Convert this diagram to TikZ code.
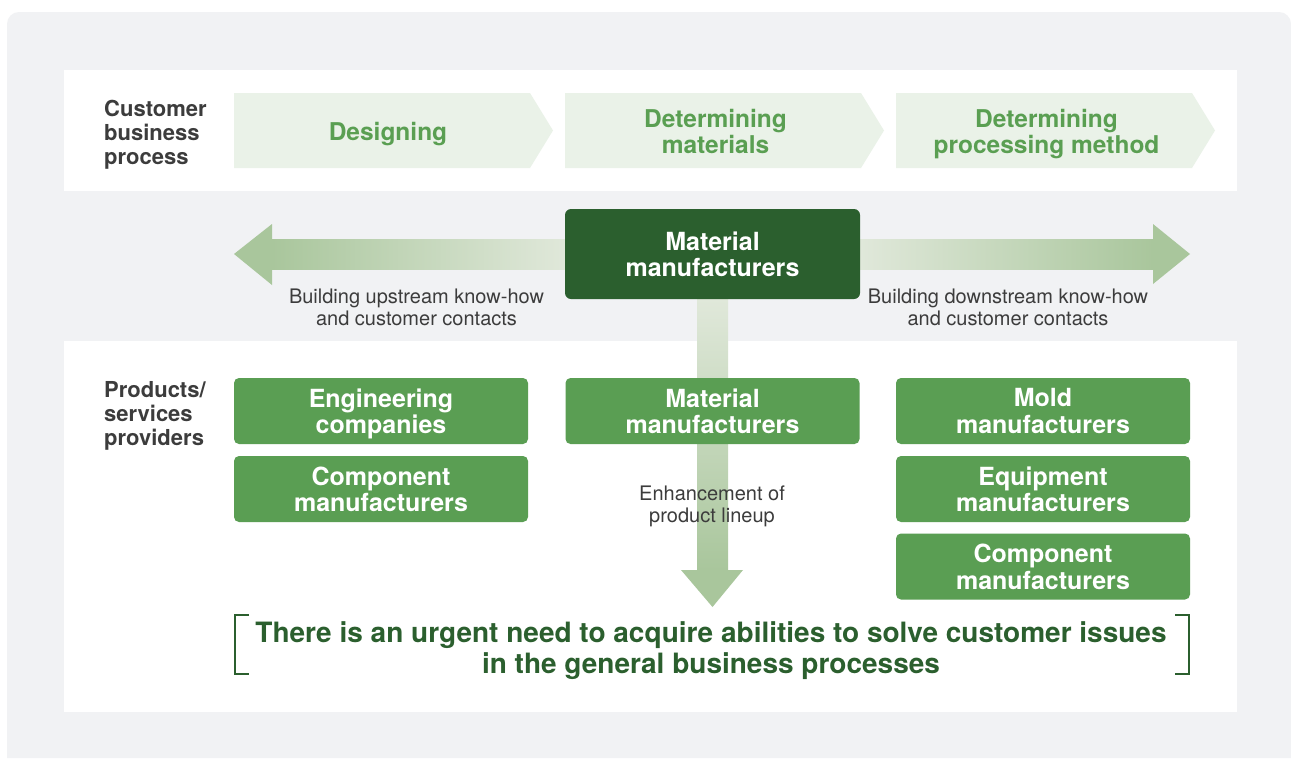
\documentclass[tikz,border=0pt]{standalone}
\usepackage{fontspec}
\setmainfont{TeX Gyre Heros}
\usepackage{xcolor}
\usepackage{tikz}
\definecolor{bggray}{HTML}{F1F2F4}
\definecolor{chevfill}{HTML}{EAF2E8}
\definecolor{chevtext}{HTML}{5A9F52}
\definecolor{darkgreen}{HTML}{2B5F2E}
\definecolor{midgreen}{HTML}{5A9E53}
\definecolor{arrowdark}{HTML}{A9C69C}
\definecolor{arrowlight}{HTML}{E0E8DA}
\definecolor{textgray}{HTML}{3C3C3C}
\tikzset{
	steptext/.style  = {text=chevtext, align=center, inner sep=0pt, text depth=0pt,
		font=\fontsize{24.5}{26}\selectfont\bfseries},
	makerbox/.style  = {shape=rectangle, rounded corners=5pt, fill=midgreen, text=white,
		align=center, minimum width=294pt, minimum height=66pt, inner sep=0pt,
		text depth=0pt, font=\fontsize{25}{26.5}\selectfont\bfseries},
	mainbox/.style   = {makerbox, fill=darkgreen, minimum width=295pt, minimum height=90pt,
		rounded corners=6pt},
	rowlabel/.style  = {text=textgray, align=left, anchor=west, inner sep=0pt,
		text depth=0pt, font=\fontsize{22}{24}\selectfont\bfseries},
	remark/.style    = {text=textgray, align=center, inner sep=0pt, text depth=0pt,
		font=\fontsize{20}{22}\selectfont},
	brackline/.style = {draw=darkgreen, line width=2pt}
}

\begin{document}
\begin{tikzpicture}
[
x = 1pt,
y = -1pt
]
\useasboundingbox (0,0) rectangle (1291,758);
\fill[white] (0,0) rectangle (1291,758);
\fill[bggray] (7,758) [rounded corners=12pt] -- (7,12) -- (1291,12) [sharp corners] -- (1291,758) -- cycle;
\fill[white] (64,70) rectangle (1237,191);
\fill[white] (64,341) rectangle (1237,712);

\foreach \x in {234,565,896}
	\fill[chevfill] (\x,93) -- (\x+296,93) -- (\x+319,130.5) -- (\x+296,168) -- (\x,168) -- cycle;
\node[rowlabel] (cbp) at (104,132) {Customer\\business\\process};
\node[steptext] (design)  at (388,131)    {Designing};
\node[steptext] (matsel)  at (715.5,131)  {Determining\\materials};
\node[steptext] (procsel) at (1046.5,131) {Determining\\processing method};

\coordinate (uptip)   at (234,254);
\coordinate (downtip) at (1190,254);
\coordinate (linetip) at (712.5,607);
\shade[left color=arrowdark, right color=arrowlight] (272,239) rectangle (566,269);
\fill[arrowdark] (uptip) -- ++(38,-30) -- ++(0,61) -- cycle;
\shade[left color=arrowlight, right color=arrowdark] (860,239) rectangle (1153,269);
\fill[arrowdark] (downtip) -- ++(-37,-30) -- ++(0,60) -- cycle;
\shade[top color=arrowlight, bottom color=arrowdark] (697,299) rectangle (728,570);
\fill[arrowdark] (linetip) -- ++(-31.5,-37) -- ++(62,0) -- cycle;

\node[mainbox] (mfr) at (712.5,254) {Material\\manufacturers};
\node[remark] (upnote)   at (416.5,307) {Building upstream know-how\\and customer contacts};
\node[remark] (downnote) at (1008,307)  {Building downstream know-how\\and customer contacts};

\node[rowlabel] (psp) at (104,413) {Products/\\services\\providers};
\node[makerbox] (eng)   at (381,411)    {Engineering\\companies};
\node[makerbox] (compA) at (381,489)    {Component\\manufacturers};
\node[makerbox] (mat)   at (712.5,411)  {Material\\manufacturers};
\node[makerbox] (mold)  at (1043,411)   {Mold\\manufacturers};
\node[makerbox] (equip) at (1043,489)   {Equipment\\manufacturers};
\node[makerbox] (compB) at (1043,566.5) {Component\\manufacturers};
\node[remark] (lineup) at (712,504) {Enhancement of\\product lineup};

\node[text=darkgreen, align=center, text depth=0pt, font=\fontsize{28}{31}\selectfont\bfseries]
	(need) at (711,647.5) {There is an urgent need to acquire abilities to solve customer issues\\in the general business processes};
\draw[brackline] (249,615) -- (235,615) -- (235,674) -- (249,674);
\draw[brackline] (1175,615) -- (1189,615) -- (1189,674) -- (1175,674);
\end{tikzpicture}
\end{document}
